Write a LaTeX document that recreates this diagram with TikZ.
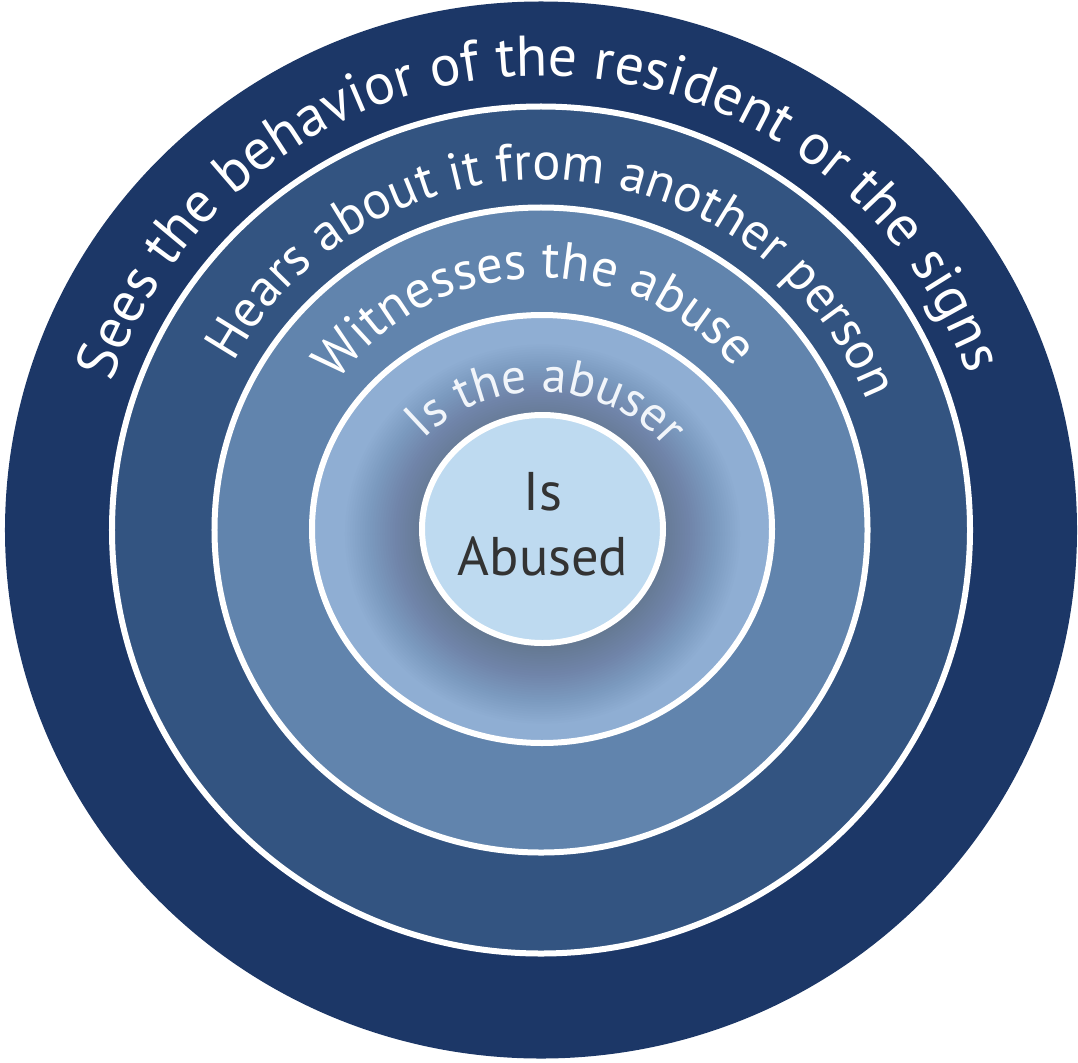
\documentclass[tikz,border=0pt]{standalone}
\usepackage{fontspec}
\setmainfont{PT Sans}
\usetikzlibrary{decorations.text}

\definecolor{ringone}{HTML}{1C3767}
\definecolor{ringtwo}{HTML}{335481}
\definecolor{ringthree}{HTML}{6184AD}
\definecolor{ringfour}{HTML}{8FAED3}
\definecolor{ringcore}{HTML}{BEDAF0}
\definecolor{shadowc}{HTML}{3C4655}
\definecolor{coretext}{HTML}{333333}

\begin{document}
\begin{tikzpicture}[
    ring/.style={draw=white, line width=0.06cm},
    arctext/.style={decorate, decoration={text along path, text align=center, text={#1}}}
  ]
    \useasboundingbox (-5.41,-5.32) rectangle (5.37,5.30);

    % rings, outside in
    \fill[ringone] (0,0) ellipse[x radius=5.36, y radius=5.285];
    \draw[ring, fill=ringtwo] (0,0) ellipse[x radius=4.29, y radius=4.235];
    \draw[ring, fill=ringthree] (0,0) ellipse[x radius=3.265, y radius=3.225];
    \fill[ringfour] (0.01,0.01) ellipse[x radius=2.30, y radius=2.14];
    % soft shadow round the core
    \begin{scope}
      \clip (0.01,0.01) ellipse[x radius=2.30, y radius=2.14];
      \foreach \r in {1.20,1.225,...,2.00}
        \fill[shadowc, opacity=0.014] (0.015,-0.04) ellipse[x radius=\r, y radius=0.96*\r];
    \end{scope}
    \draw[ring] (0.01,0.01) ellipse[x radius=2.30, y radius=2.14];
    \draw[ring, fill=ringcore] (0.015,0.01) ellipse[x radius=1.205, y radius=1.14];

    \node[font=\fontsize{15.5}{18.5}\selectfont, text=coretext, align=center] (abused) at (0.02,0.06) {Is\\Abused};

    % ring labels
    \path[arctext={|\fontsize{16.4}{20}\selectfont\color{white}|Sees the behavior of the resident or the signs}]
      (180.5:4.54) arc[start angle=180.5, end angle=0.5, radius=4.54];
    \path[arctext={|\fontsize{15}{18}\selectfont\color{white}|Hears about it from another person}]
      (176.5:3.50) arc[start angle=176.5, end angle=-3.5, radius=3.50];
    \path[arctext={|\fontsize{15}{18}\selectfont\color{white}|Witnesses the abuse}]
      (182:2.52) arc[start angle=182, end angle=2, radius=2.52];
    \path[arctext={|\fontsize{14.1}{17}\selectfont\color{white!88!ringfour}|Is the abuser}]
      (177.6:1.55cm and 1.38cm) arc[start angle=177.6, end angle=-2.4, x radius=1.55, y radius=1.38];
\end{tikzpicture}
\end{document}
